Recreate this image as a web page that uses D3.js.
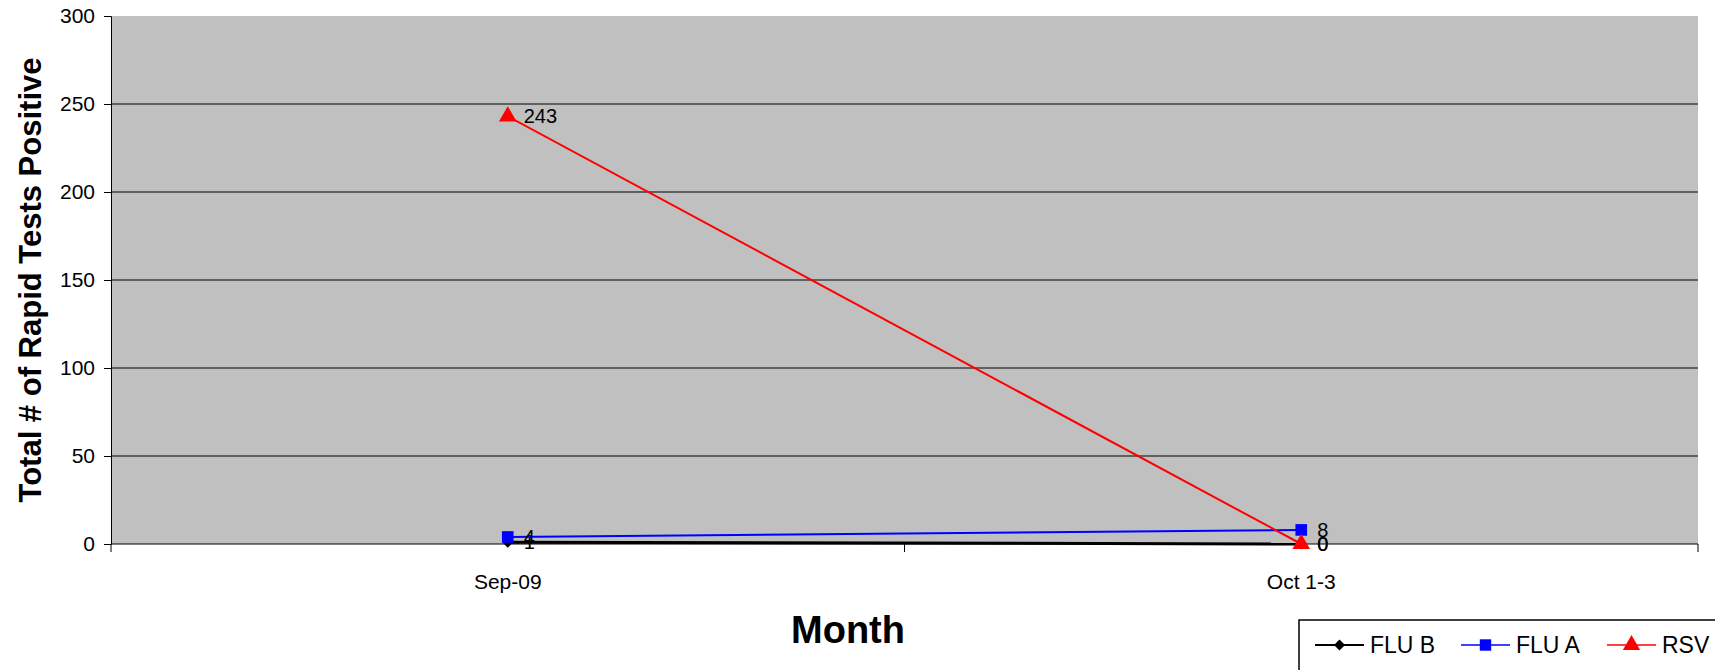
<!DOCTYPE html>
<html>
<head>
<meta charset="utf-8">
<script src="https://cdn.jsdelivr.net/npm/d3@7"></script>
<style>
	body { margin: 0; background: #fff; }
	text { font-family: "Liberation Sans", Arial, sans-serif; }
	.narrow { font-family: "Liberation Sans Narrow", "Arial Narrow", "Liberation Sans", sans-serif; }
</style>
</head>
<body>
<div id="chart"></div>
<script>
// chart data
const months = ["Sep-09", "Oct 1-3"]
const seriesNames = ["FLU B", "FLU A", "RSV"]
const fluB = [1, 0]
const fluA = [4, 8]
const rsv = [243, 0]
const yTicks = [0, 50, 100, 150, 200, 250, 300]

const seriesValues = [fluB, fluA, rsv]
const seriesColors = ["#000000", "#0000ff", "#ff0000"]
// diamond = square turned 45 degrees (excel style)
const seriesShapes = [d3.symbolSquare, d3.symbolSquare, d3.symbolTriangle]
const seriesRotate = [45, 0, 0]
const seriesWidths = [3, 2, 2]

const svgWidth = 1715
const svgHeight = 670

let margin = { top: 16, right: 17, bottom: 126, left: 111 }
let width = svgWidth - margin.left - margin.right
let height = svgHeight - margin.top - margin.bottom

let svg = d3.select("#chart")
	.append("svg")
	.attr("width", svgWidth)
	.attr("height", svgHeight)

let chartGroup = svg.append("g")
	.attr("transform", `translate(${margin.left}, ${margin.top})`)

// scales
let xBand = d3.scaleBand().domain(months).range([0, width]).padding(0)
let xPos = d => xBand(d) + xBand.bandwidth() / 2
let yScale = d3.scaleLinear().domain([0, 300]).range([height, 0])

// plot background
chartGroup.append("rect")
	.attr("width", width)
	.attr("height", height)
	.attr("fill", "#c0c0c0")

// gridlines
chartGroup.selectAll(".grid")
	.data(yTicks.filter(t => t > 0 && t < 300))
	.enter()
	.append("line")
	.attr("x1", 0)
	.attr("x2", width)
	.attr("y1", d => yScale(d))
	.attr("y2", d => yScale(d))
	.attr("stroke", "#000")
	.attr("stroke-width", 1)

// y axis
let yAxis = chartGroup.append("g")
	.call(d3.axisLeft(yScale).tickValues(yTicks).tickSize(7).tickPadding(9))
yAxis.selectAll("text").attr("class", "narrow").attr("font-size", 21).attr("fill", "#000")
yAxis.select(".domain").attr("stroke", "#000")

// x axis (labels in band centers, ticks on band edges)
let xAxis = chartGroup.append("g")
	.attr("transform", `translate(0, ${height})`)
	.call(d3.axisBottom(xBand).tickSize(0).tickPadding(30))
xAxis.selectAll("text").attr("class", "narrow").attr("font-size", 21).attr("fill", "#000")
xAxis.select(".domain").remove()

let edges = months.map(m => xBand(m)).concat([width])
chartGroup.append("line")
	.attr("x1", 0).attr("x2", width)
	.attr("y1", height).attr("y2", height)
	.attr("stroke", "#000")
chartGroup.selectAll(".xtick")
	.data(edges)
	.enter()
	.append("line")
	.attr("x1", d => d).attr("x2", d => d)
	.attr("y1", height).attr("y2", height + 8)
	.attr("stroke", "#000")

// lines, markers and value labels
let line = d3.line()
	.x((d, i) => xPos(months[i]))
	.y(d => yScale(d))

seriesValues.forEach((vals, s) => {
	chartGroup.append("path")
		.datum(vals)
		.attr("d", line)
		.attr("fill", "none")
		.attr("stroke", seriesColors[s])
		.attr("stroke-width", seriesWidths[s])

	chartGroup.selectAll(".mark" + s)
		.data(vals)
		.enter()
		.append("path")
		.attr("d", d3.symbol().type(seriesShapes[s]).size(s === 0 ? 60 : 135))
		.attr("transform", (d, i) => `translate(${xPos(months[i])}, ${yScale(d)}) rotate(${seriesRotate[s]})`)
		.attr("fill", seriesColors[s])

	chartGroup.selectAll(".label" + s)
		.data(vals)
		.enter()
		.append("text")
		.attr("class", "narrow")
		.attr("x", (d, i) => xPos(months[i]) + 16)
		.attr("y", d => yScale(d))
		.attr("dy", "0.35em")
		.attr("font-size", 20)
		.attr("fill", "#000")
		.text(d => d)
})

// axis titles
svg.append("text")
	.attr("transform", `translate(30, ${margin.top + height / 2}) rotate(-90)`)
	.attr("text-anchor", "middle")
	.attr("dy", "0.35em")
	.attr("font-size", 31)
	.attr("font-weight", "bold")
	.text("Total # of Rapid Tests Positive")

svg.append("text")
	.attr("x", 848)
	.attr("y", 643)
	.attr("text-anchor", "middle")
	.attr("font-size", 38)
	.attr("font-weight", "bold")
	.text("Month")

// legend
let legend = svg.append("g").attr("transform", "translate(1299, 620)")
legend.append("rect")
	.attr("width", 430)
	.attr("height", 60)
	.attr("fill", "#fff")
	.attr("stroke", "#000")
	.attr("stroke-width", 1.5)

let legendX = [16, 162, 308]
seriesNames.forEach((name, s) => {
	let item = legend.append("g").attr("transform", `translate(${legendX[s]}, 25)`)
	item.append("line")
		.attr("x1", 0).attr("x2", 49)
		.attr("stroke", seriesColors[s])
		.attr("stroke-width", s === 0 ? 2 : 1.5)
	item.append("path")
		.attr("d", d3.symbol().type(seriesShapes[s]).size(s === 0 ? 60 : 130))
		.attr("transform", `translate(24.5, 0) rotate(${seriesRotate[s]})`)
		.attr("fill", seriesColors[s])
	item.append("text")
		.attr("x", 55)
		.attr("dy", "0.35em")
		.attr("font-size", 23)
		.attr("fill", "#000")
		.text(name)
})
</script>
</body>
</html>
